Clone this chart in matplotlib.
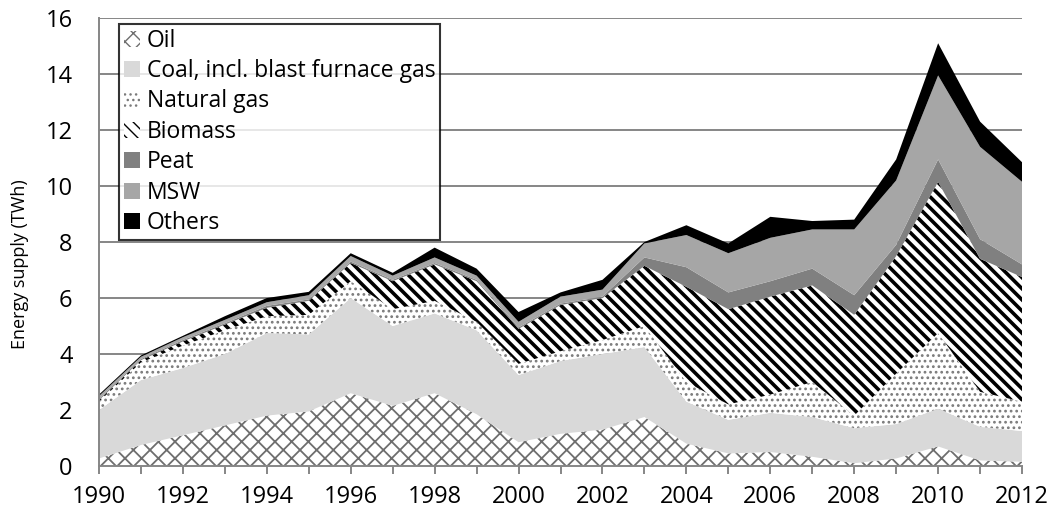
import numpy as np
import matplotlib
matplotlib.use("Agg")
import matplotlib.pyplot as plt
from matplotlib.patches import Patch

plt.rcParams['font.family'] = ['Open Sans', 'DejaVu Sans']

years = list(range(1990, 2013))

# energy supply per fuel (TWh)
oil = [0.27, 0.75, 1.10, 1.45, 1.80, 1.95, 2.60, 2.15, 2.60, 1.85, 0.85, 1.15,
       1.30, 1.75, 0.80, 0.45, 0.50, 0.33, 0.10, 0.27, 0.70, 0.20, 0.15]
coal = [1.73, 2.32, 2.40, 2.55, 2.95, 2.75, 3.40, 2.85, 2.85, 3.00, 2.40, 2.60,
        2.70, 2.50, 1.50, 1.20, 1.40, 1.42, 1.25, 1.23, 1.35, 1.20, 1.10]
natural_gas = [0.30, 0.63, 0.80, 0.85, 0.60, 0.70, 0.60, 0.60, 0.45, 0.30, 0.40, 0.35,
               0.50, 0.75, 0.70, 0.55, 0.65, 1.25, 0.45, 1.80, 2.70, 1.25, 1.05]
biomass = [0.05, 0.08, 0.15, 0.20, 0.30, 0.50, 0.65, 1.00, 1.30, 1.45, 1.25, 1.65,
           1.50, 2.15, 3.40, 3.40, 3.50, 3.45, 3.60, 4.20, 5.40, 4.75, 4.45]
peat = [0.05, 0.04, 0.05, 0.05, 0.07, 0.05, 0.05, 0.05, 0.05, 0.05, 0.05, 0.05,
        0.05, 0.30, 0.70, 0.60, 0.55, 0.60, 0.70, 0.40, 0.80, 0.70, 0.45]
msw = [0.10, 0.08, 0.10, 0.12, 0.13, 0.15, 0.20, 0.15, 0.20, 0.15, 0.20, 0.25,
       0.25, 0.50, 1.15, 1.40, 1.55, 1.40, 2.35, 2.30, 3.00, 3.30, 2.95]
others = [0.05, 0.05, 0.05, 0.13, 0.15, 0.12, 0.10, 0.10, 0.35, 0.25, 0.35, 0.15,
          0.35, 0.05, 0.35, 0.35, 0.75, 0.30, 0.35, 0.75, 1.15, 0.90, 0.70]

labels = ['Oil', 'Coal, incl. blast furnace gas', 'Natural gas', 'Biomass',
          'Peat', 'MSW', 'Others']
faces = ['white', '#d9d9d9', 'white', 'white', '#808080', '#a6a6a6', 'black']
hatches = ['xx', None, '...', '\\\\\\', None, None, None]
hatch_cols = ['#6e6e6e', None, '#7a7a7a', 'black', None, None, None]
hatch_lw = [1.3, 1, 1.2, 2.6, 1, 1, 1]

fig = plt.figure(figsize=(10.53, 5.15), dpi=100)
ax = fig.add_axes([0.094, 0.0951, 0.8766, 0.8699])

polys = ax.stackplot(years, oil, coal, natural_gas, biomass, peat, msw, others,
                     colors=faces, zorder=2)
for p, h, hc, lw in zip(polys, hatches, hatch_cols, hatch_lw):
    p.set_linewidth(0)
    if h:
        p.set_hatch(h)
        p.set_edgecolor(hc)
        if hasattr(p, 'set_hatch_linewidth'):
            p.set_hatch_linewidth(lw)

ax.set_xlim(1990, 2012)
ax.set_ylim(0, 16)
ax.set_yticks(range(0, 17, 2))
ax.set_xticks(range(1990, 2013, 2))
ax.set_xticks(years, minor=True)
ax.grid(axis='y', color='#868686', linewidth=1.4, zorder=0)
ax.set_axisbelow(True)
for s in ['top', 'right']:
    ax.spines[s].set_visible(False)
for s in ['left', 'bottom']:
    ax.spines[s].set_color('#868686')
    ax.spines[s].set_linewidth(1.4)
    ax.spines[s].set_zorder(3)
ax.tick_params(axis='y', length=0, labelsize=17, pad=19)
ax.tick_params(axis='x', which='both', direction='out', length=6, color='#868686',
               width=1.4, labelsize=17, pad=8)
ax.set_ylabel('Energy supply (TWh)', fontsize=13)
ax.yaxis.set_label_coords(-0.076, 0.45)

handles = []
for f, h, hc in zip(faces, hatches, hatch_cols):
    if h:
        handles.append(Patch(facecolor=f, edgecolor=hc, hatch=h, linewidth=0))
    else:
        handles.append(Patch(facecolor=f, linewidth=0))
leg = ax.legend(handles, labels, loc='upper left', bbox_to_anchor=(0.0217, 0.9866),
                prop={'size': 16.5}, frameon=True, fancybox=False, borderaxespad=0,
                handlelength=0.7, handleheight=0.7, handletextpad=0.3,
                labelspacing=0.28, borderpad=0.2)
leg.get_frame().set_edgecolor('black')
leg.get_frame().set_linewidth(1.5)
leg.set_zorder(5)

fig.savefig('out.png', dpi=100)
